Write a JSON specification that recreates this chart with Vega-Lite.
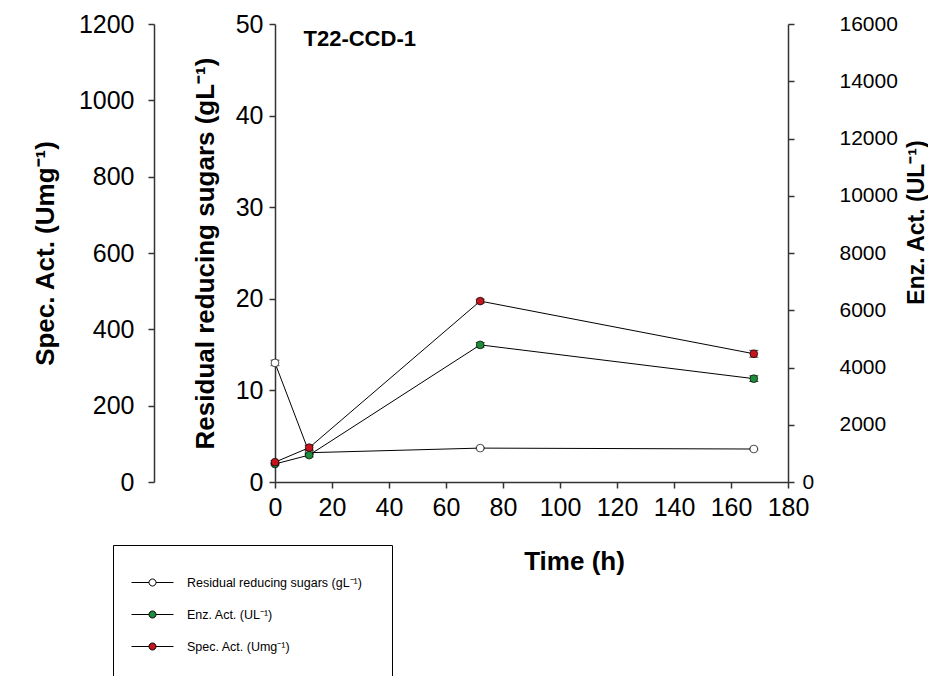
{
  "$schema": "https://vega.github.io/schema/vega-lite/v6.json",
  "width": 513,
  "height": 458,
  "autosize": {"type": "none"},
  "padding": {"left": 275, "top": 24, "right": 140, "bottom": 194},
  "background": "white",
  "config": {
    "font": "Liberation Sans",
    "view": {"stroke": null},
    "axis": {
      "grid": false,
      "domainColor": "#333333",
      "tickColor": "#333333",
      "domainWidth": 1.5,
      "tickWidth": 1.5,
      "tickSize": 6,
      "labelFont": "Liberation Sans",
      "labelFontSize": 25,
      "labelColor": "black",
      "labelOverlap": false,
      "labelFlush": false,
      "labelBound": false,
      "titleFont": "Liberation Sans",
      "titleFontSize": 26,
      "titleFontWeight": "bold",
      "titleColor": "black"
    },
    "legend": {
      "orient": "none",
      "legendX": -162,
      "legendY": 521,
      "strokeColor": "black",
      "strokeWidth": 1,
      "padding": 30,
      "labelFont": "Liberation Sans",
      "labelFontSize": 12.5,
      "labelColor": "black",
      "labelLimit": 400,
      "labelOffset": 27,
      "rowPadding": 18,
      "symbolOffset": 2,
      "symbolType": "M-3,0H-0.5M0.5,0H3M-0.5,0A0.5,0.5 0 1,0 0.5,0A0.5,0.5 0 1,0 -0.5,0Z",
      "symbolSize": 196,
      "symbolStrokeColor": "black",
      "symbolStrokeWidth": 1
    }
  },
  "data": {
    "values": [
      {"series": "Residual reducing sugars (gL⁻¹)", "t": 0, "v": 13.0, "err": 0.3},
      {"series": "Residual reducing sugars (gL⁻¹)", "t": 12, "v": 3.2, "err": 0.2},
      {"series": "Residual reducing sugars (gL⁻¹)", "t": 72, "v": 3.7, "err": 0.1},
      {"series": "Residual reducing sugars (gL⁻¹)", "t": 168, "v": 3.6, "err": 0.1},
      {"series": "Enz. Act. (UL⁻¹)", "t": 0, "v": 630, "err": 40},
      {"series": "Enz. Act. (UL⁻¹)", "t": 12, "v": 940, "err": 60},
      {"series": "Enz. Act. (UL⁻¹)", "t": 72, "v": 4790, "err": 80},
      {"series": "Enz. Act. (UL⁻¹)", "t": 168, "v": 3610, "err": 100},
      {"series": "Spec. Act. (Umg⁻¹)", "t": 0, "v": 52, "err": 4},
      {"series": "Spec. Act. (Umg⁻¹)", "t": 12, "v": 90, "err": 6},
      {"series": "Spec. Act. (Umg⁻¹)", "t": 72, "v": 474, "err": 5},
      {"series": "Spec. Act. (Umg⁻¹)", "t": 168, "v": 336, "err": 9}
    ]
  },
  "encoding": {
    "x": {
      "field": "t",
      "type": "quantitative",
      "scale": {"domain": [0, 180], "nice": false},
      "axis": {
        "values": [0, 20, 40, 60, 80, 100, 120, 140, 160, 180],
        "title": "Time (h)",
        "titleX": 299,
        "titleY": 87,
        "titleBaseline": "alphabetic",
        "labelPadding": 7
      }
    }
  },
  "layer": [
    {
      "transform": [{"filter": "datum.series == 'Residual reducing sugars (gL⁻¹)'"}],
      "encoding": {
        "y": {
          "field": "v",
          "type": "quantitative",
          "scale": {"domain": [0, 50], "nice": false},
          "axis": {
            "orient": "left",
            "values": [0, 10, 20, 30, 40, 50],
            "title": "Residual reducing sugars (gL⁻¹)",
            "labelPadding": 6,
            "titlePadding": 17
          }
        }
      },
      "layer": [
        {"mark": {"type": "line", "color": "black", "strokeWidth": 1}},
        {"mark": {"type": "errorbar", "color": "black", "ticks": {"size": 9}}, "encoding": {"yError": {"field": "err"}}},
        {
          "mark": {"type": "point", "filled": true, "size": 60, "stroke": "black", "strokeWidth": 0.7, "opacity": 1},
          "encoding": {
            "color": {
              "field": "series",
              "type": "nominal",
              "scale": {
                "domain": ["Residual reducing sugars (gL⁻¹)", "Enz. Act. (UL⁻¹)", "Spec. Act. (Umg⁻¹)"],
                "range": ["#ffffff", "#1e8c3a", "#c4161c"]
              },
              "legend": {"title": null}
            }
          }
        }
      ]
    },
    {
      "transform": [{"filter": "datum.series == 'Enz. Act. (UL⁻¹)'"}],
      "encoding": {
        "y": {
          "field": "v",
          "type": "quantitative",
          "scale": {"domain": [0, 16000], "nice": false},
          "axis": {
            "orient": "right",
            "values": [0, 2000, 4000, 6000, 8000, 10000, 12000, 14000, 16000],
            "format": "d",
            "labelFontSize": 21,
            "title": "Enz. Act. (UL⁻¹)",
            "labelPadding": {"condition": {"test": "datum.value == 0", "value": 8}, "value": 45},
            "titleAngle": 270,
            "titleX": 128,
            "titleY": 198,
            "titleAlign": "center",
            "titleBaseline": "middle",
            "titleFontSize": 23
          }
        }
      },
      "layer": [
        {"mark": {"type": "line", "color": "black", "strokeWidth": 1}},
        {"mark": {"type": "errorbar", "color": "black", "ticks": {"size": 9}}, "encoding": {"yError": {"field": "err"}}},
        {
          "mark": {"type": "point", "filled": true, "size": 60, "stroke": "black", "strokeWidth": 0.7, "opacity": 1},
          "encoding": {"color": {"field": "series", "type": "nominal"}}
        }
      ]
    },
    {
      "transform": [{"filter": "datum.series == 'Spec. Act. (Umg⁻¹)'"}],
      "encoding": {
        "y": {
          "field": "v",
          "type": "quantitative",
          "scale": {"domain": [0, 1200], "nice": false},
          "axis": {
            "orient": "left",
            "offset": 121,
            "values": [0, 200, 400, 600, 800, 1000, 1200],
            "format": "d",
            "title": "Spec. Act. (Umg⁻¹)",
            "labelPadding": 14,
            "titlePadding": 20
          }
        }
      },
      "layer": [
        {"mark": {"type": "line", "color": "black", "strokeWidth": 1}},
        {"mark": {"type": "errorbar", "color": "black", "ticks": {"size": 9}}, "encoding": {"yError": {"field": "err"}}},
        {
          "mark": {"type": "point", "filled": true, "size": 60, "stroke": "black", "strokeWidth": 0.7, "opacity": 1},
          "encoding": {"color": {"field": "series", "type": "nominal"}}
        },
        {
          "data": {"values": [{"label": "T22-CCD-1", "t": 10, "v": 1160}]},
          "transform": [],
          "mark": {"type": "text", "fontWeight": "bold", "fontSize": 22, "align": "left", "baseline": "middle", "font": "Liberation Sans"},
          "encoding": {"text": {"field": "label"}, "x": {"field": "t", "type": "quantitative"}, "y": {"field": "v", "type": "quantitative"}}
        }
      ]
    }
  ],
  "resolve": {"scale": {"y": "independent"}}
}
